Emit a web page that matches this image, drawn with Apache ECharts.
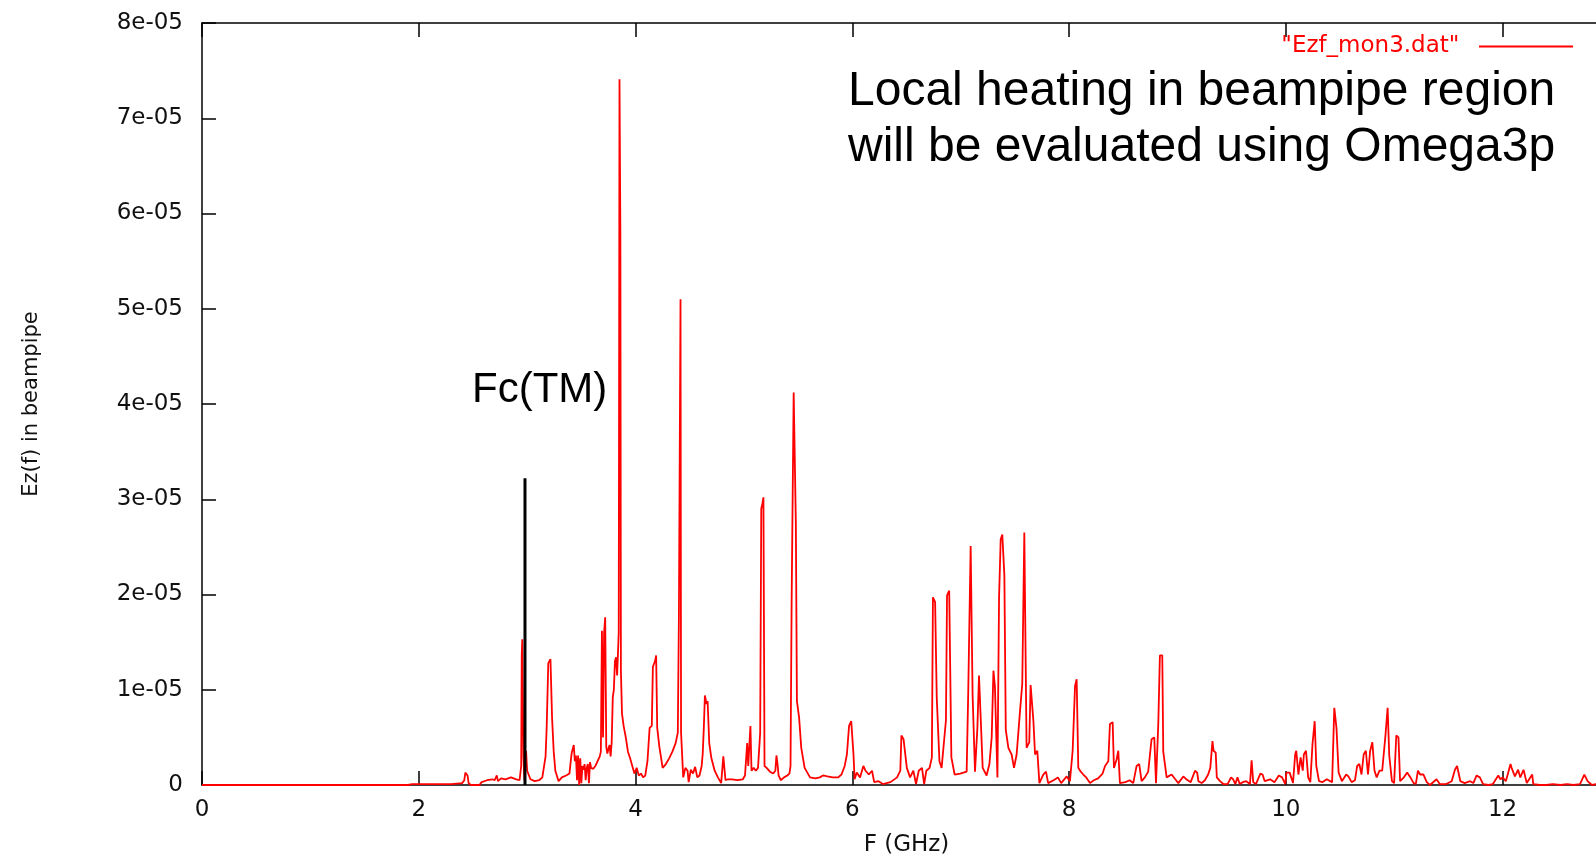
<!DOCTYPE html>
<html>
<head>
<meta charset="utf-8">
<title>Ez(f) in beampipe</title>
<script src="https://cdn.jsdelivr.net/npm/echarts@6/dist/echarts.min.js"></script>
<style>
  html, body { margin: 0; padding: 0; background: #fff; }
  #chart { width: 1596px; height: 859px; }
</style>
</head>
<body>
<div id="chart"></div>
<script>
// data; ez values are in units of 1e-05
const unit = 1e-5;
const seriesName = '"Ezf_mon3.dat"';

const freq = [
  0, 1.90, 1.94, 2.10, 2.30, 2.40, 2.42, 2.43, 2.45, 2.46, 2.48, 2.56, 2.58, 2.63, 2.68, 2.70, 2.72, 2.73, 2.76, 2.80,
  2.85, 2.90, 2.93, 2.945, 2.95, 2.955, 2.965, 2.975, 2.99, 3.00, 3.03, 3.07, 3.11, 3.14, 3.17, 3.18, 3.195, 3.205, 3.215, 3.23,
  3.245, 3.26, 3.29, 3.32, 3.36, 3.39, 3.41, 3.43, 3.44, 3.45, 3.46, 3.47, 3.48, 3.49, 3.50, 3.51, 3.52, 3.53, 3.54, 3.55,
  3.56, 3.57, 3.58, 3.59, 3.61, 3.63, 3.65, 3.67, 3.68, 3.69, 3.70, 3.71, 3.72, 3.73, 3.74, 3.75, 3.76, 3.77, 3.78, 3.79,
  3.80, 3.81, 3.82, 3.83, 3.845, 3.852, 3.86, 3.865, 3.875, 3.89, 3.91, 3.93, 3.95, 3.97, 3.99, 4.01, 4.03, 4.05, 4.07, 4.09,
  4.11, 4.13, 4.15, 4.16, 4.17, 4.18, 4.19, 4.20, 4.22, 4.25, 4.28, 4.31, 4.34, 4.37, 4.39, 4.40, 4.41, 4.415, 4.42, 4.44,
  4.46, 4.48, 4.49, 4.51, 4.53, 4.55, 4.57, 4.59, 4.61, 4.62, 4.63, 4.64, 4.655, 4.665, 4.68, 4.70, 4.73, 4.76, 4.79, 4.81,
  4.82, 4.83, 4.85, 4.89, 4.94, 4.99, 5.01, 5.03, 5.04, 5.06, 5.07, 5.09, 5.11, 5.13, 5.15, 5.16, 5.17, 5.18, 5.19, 5.21,
  5.24, 5.27, 5.29, 5.30, 5.31, 5.32, 5.34, 5.37, 5.40, 5.42, 5.43, 5.44, 5.459, 5.479, 5.489, 5.509, 5.529, 5.56, 5.61, 5.66,
  5.70, 5.73, 5.77, 5.82, 5.87, 5.90, 5.93, 5.95, 5.97, 5.99, 6.011, 6.021, 6.041, 6.071, 6.102, 6.122, 6.152, 6.182, 6.202, 6.242,
  6.282, 6.352, 6.413, 6.443, 6.453, 6.473, 6.503, 6.533, 6.563, 6.588, 6.613, 6.643, 6.663, 6.683, 6.713, 6.734, 6.744, 6.764, 6.779, 6.804,
  6.824, 6.844, 6.864, 6.874, 6.894, 6.914, 6.944, 6.995, 7.055, 7.07, 7.092, 7.11, 7.132, 7.154, 7.169, 7.187, 7.203, 7.239, 7.265, 7.286,
  7.302, 7.316, 7.339, 7.354, 7.369, 7.384, 7.403, 7.416, 7.44, 7.47, 7.492, 7.516, 7.547, 7.568, 7.587, 7.608, 7.633, 7.645, 7.671, 7.686,
  7.707, 7.726, 7.762, 7.787, 7.807, 7.857, 7.897, 7.927, 7.978, 8.008, 8.033, 8.055, 8.07, 8.085, 8.108, 8.131, 8.158, 8.193, 8.228, 8.268,
  8.309, 8.332, 8.362, 8.377, 8.402, 8.414, 8.439, 8.454, 8.469, 8.519, 8.559, 8.592, 8.623, 8.647, 8.669, 8.699, 8.73, 8.761, 8.786, 8.802,
  8.823, 8.838, 8.86, 8.869, 8.90, 8.946, 8.98, 9.008, 9.054, 9.082, 9.122, 9.162, 9.182, 9.193, 9.223, 9.253, 9.283, 9.303, 9.323, 9.333,
  9.353, 9.363, 9.393, 9.423, 9.463, 9.494, 9.514, 9.534, 9.554, 9.574, 9.604, 9.634, 9.669, 9.684, 9.699, 9.724, 9.765, 9.785, 9.805, 9.855,
  9.895, 9.935, 9.965, 9.995, 10.005, 10.035, 10.066, 10.086, 10.096, 10.116, 10.136, 10.156, 10.166, 10.186, 10.206, 10.226, 10.246, 10.266, 10.281, 10.306,
  10.337, 10.377, 10.427, 10.447, 10.467, 10.487, 10.517, 10.557, 10.577, 10.607, 10.638, 10.658, 10.678, 10.698, 10.718, 10.738, 10.758, 10.778, 10.798, 10.818,
  10.838, 10.864, 10.889, 10.919, 10.939, 10.954, 10.979, 10.999, 11.019, 11.039, 11.054, 11.089, 11.119, 11.149, 11.179, 11.199, 11.219, 11.239, 11.27, 11.30,
  11.33, 11.39, 11.42, 11.48, 11.53, 11.56, 11.58, 11.61, 11.65, 11.70, 11.73, 11.76, 11.79, 11.82, 11.87, 11.91, 11.96, 11.98, 12.00, 12.03,
  12.073, 12.083, 12.113, 12.143, 12.163, 12.193, 12.223, 12.273, 12.283, 12.343, 12.403, 12.463, 12.534, 12.594, 12.654, 12.714, 12.754, 12.784, 12.824, 12.864,
  12.91, 12.95, 13.0
];

const ez = [
  0, 0, 0.01, 0.01, 0.01, 0.02, 0.05, 0.13, 0.10, 0.02, 0, 0, 0.03, 0.05, 0.06, 0.05, 0.10, 0.04, 0.07, 0.06,
  0.08, 0.06, 0.05, 0.20, 1.36, 1.53, 0.30, 0.05, 0.36, 0.15, 0.06, 0.04, 0.05, 0.08, 0.30, 0.60, 1.28, 1.30, 1.32, 0.70,
  0.35, 0.15, 0.04, 0.08, 0.10, 0.12, 0.33, 0.42, 0.25, 0.31, 0.05, 0.31, 0, 0.28, 0.02, 0.20, 0.16, 0.22, 0.05, 0.18,
  0.22, 0.02, 0.24, 0.18, 0.17, 0.20, 0.25, 0.30, 0.35, 1.62, 0.50, 1.60, 1.76, 0.40, 0.33, 0.38, 0.42, 0.30, 0.45, 0.92,
  1.00, 1.30, 1.34, 1.15, 1.60, 7.41, 5.82, 1.20, 0.75, 0.62, 0.50, 0.35, 0.28, 0.20, 0.12, 0.18, 0.10, 0.12, 0.08, 0.10,
  0.25, 0.60, 0.62, 1.24, 1.27, 1.30, 1.36, 0.60, 0.40, 0.18, 0.22, 0.28, 0.35, 0.44, 0.55, 1.76, 1.78, 5.10, 0.55, 0.08,
  0.18, 0.15, 0.03, 0.16, 0.12, 0.19, 0.08, 0.10, 0.20, 0.33, 0.60, 0.94, 0.85, 0.88, 0.44, 0.28, 0.15, 0.08, 0.02, 0.30,
  0.29, 0.05, 0.06, 0.06, 0.05, 0.06, 0.10, 0.44, 0.20, 0.62, 0.15, 0.18, 0.15, 0.18, 0.55, 2.90, 2.95, 3.02, 0.20, 0.18,
  0.14, 0.12, 0.15, 0.31, 0.22, 0.10, 0.05, 0.08, 0.10, 0.12, 0.20, 1.90, 4.12, 2.76, 0.88, 0.71, 0.39, 0.18, 0.08, 0.07,
  0.08, 0.10, 0.09, 0.08, 0.08, 0.11, 0.20, 0.32, 0.62, 0.67, 0.32, 0.06, 0.13, 0.08, 0.20, 0.15, 0.11, 0.15, 0.03, 0.04,
  0.01, 0.03, 0.08, 0.15, 0.52, 0.48, 0.18, 0.08, 0.15, 0.01, 0.15, 0.18, 0.01, 0.15, 0.18, 0.29, 1.97, 1.92, 0.92, 0.25,
  0.18, 0.43, 0.68, 1.99, 2.04, 0.29, 0.11, 0.12, 0.14, 1.00, 2.51, 0.94, 0.14, 0.60, 1.15, 1.16, 0.18, 0.10, 0.22, 0.50,
  1.20, 1.03, 0.08, 1.97, 2.58, 2.63, 2.20, 0.58, 0.39, 0.32, 0.18, 0.32, 0.77, 1.06, 2.65, 0.39, 0.45, 1.05, 0.67, 0.32,
  0.36, 0.02, 0.11, 0.14, 0.02, 0.05, 0.08, 0.02, 0.09, 0.04, 0.36, 1.04, 1.11, 0.18, 0.14, 0.11, 0.08, 0.02, 0.05, 0.07,
  0.12, 0.20, 0.25, 0.64, 0.66, 0.18, 0.27, 0.36, 0.02, 0.03, 0.05, 0.02, 0.20, 0.22, 0.04, 0.08, 0.14, 0.48, 0.50, 0.02,
  0.64, 1.36, 1.36, 0.35, 0.08, 0.11, 0.06, 0.02, 0.09, 0.06, 0.03, 0.15, 0.13, 0.04, 0.02, 0.05, 0.11, 0.18, 0.46, 0.36,
  0.34, 0.08, 0.04, 0.01, 0.01, 0.08, 0.06, 0.01, 0.08, 0.01, 0.03, 0.04, 0.01, 0.26, 0.03, 0.01, 0.12, 0.11, 0.04, 0.06,
  0.03, 0.10, 0.08, 0.01, 0.13, 0.13, 0.02, 0.32, 0.36, 0.11, 0.29, 0.15, 0.32, 0.36, 0.08, 0.03, 0.43, 0.67, 0.20, 0.04,
  0.03, 0.06, 0.03, 0.81, 0.60, 0.13, 0.04, 0.11, 0.09, 0.03, 0.05, 0.20, 0.22, 0.11, 0.32, 0.36, 0.11, 0.36, 0.45, 0.15,
  0.08, 0.15, 0.15, 0.52, 0.81, 0.31, 0.04, 0.02, 0.52, 0.50, 0.04, 0.08, 0.13, 0.08, 0.02, 0.01, 0.15, 0.11, 0.11, 0.03,
  0, 0.06, 0.01, 0.01, 0.04, 0.16, 0.20, 0.04, 0.02, 0.04, 0.02, 0.10, 0.08, 0.01, 0, 0.01, 0.10, 0.06, 0.08, 0.04,
  0.22, 0.18, 0.09, 0.16, 0.08, 0.16, 0.02, 0.11, 0.01, 0, 0, 0.01, 0, 0.01, 0, 0.01, 0.11, 0.04, 0, 0.01,
  0.02, 0.01, 0.01
];

// black marker of the TM cutoff frequency: [GHz, height in 1e-05]
const fcLine = [2.98, 3.22];
const fcLabel = 'Fc(TM)';
const noteLines = ['Local heating in beampipe region', 'will be evaluated using Omega3p'];

const xMax = 13;
const yMax = 8 * unit;

const tickFont = { fontSize: 23, fontFamily: 'DejaVu Sans', color: '#111' };

let chart = echarts.init(document.getElementById('chart'), null, { renderer: 'canvas' });

// gnuplot style box: every side drawn, ticks pointing inwards
const border = { show: true, onZero: false, lineStyle: { color: '#000', width: 1.5 } };
const ticks = { show: true, inside: true, length: 14, lineStyle: { color: '#000', width: 1.5 } };

const option = {
  animation: false,
  backgroundColor: '#fff',
  // the right edge of the plot box sits just past the picture edge
  grid: { left: 202, top: 23, width: 1409, bottom: 74, outerBoundsMode: 'none', containLabel: false },
  legend: {
    right: 18,
    top: 30,
    align: 'right',
    icon: 'rect',
    itemWidth: 94,
    itemHeight: 2,
    data: [seriesName],
    formatter: (n) => n + '  ',
    textStyle: { color: '#ff0000', fontSize: 23, fontFamily: 'DejaVu Sans' }
  },
  xAxis: [
    {
      type: 'value',
      min: 0,
      max: xMax,
      interval: 2,
      axisLine: border,
      axisTick: ticks,
      splitLine: { show: false },
      axisLabel: Object.assign({ margin: 14, formatter: (v) => (v % 2 === 0 ? String(v) : '') }, tickFont),
      name: 'F (GHz)',
      nameLocation: 'middle',
      nameGap: 49,
      nameTextStyle: { fontSize: 23, fontFamily: 'DejaVu Sans', color: '#111' }
    },
    {
      type: 'value',
      position: 'top',
      min: 0,
      max: xMax,
      interval: 2,
      axisLine: border,
      axisTick: ticks,
      axisLabel: { show: false },
      splitLine: { show: false }
    }
  ],
  yAxis: [
    {
      type: 'value',
      min: 0,
      max: yMax,
      interval: unit,
      axisLine: border,
      axisTick: ticks,
      splitLine: { show: false },
      axisLabel: Object.assign({
        margin: 19,
        formatter: (v) => (v === 0 ? '0' : Math.round(v / unit) + 'e-05')
      }, tickFont),
      name: 'Ez(f) in beampipe',
      nameLocation: 'middle',
      nameGap: 160,
      nameTextStyle: { fontSize: 21, fontFamily: 'DejaVu Sans', color: '#111' }
    },
    {
      type: 'value',
      position: 'right',
      min: 0,
      max: yMax,
      interval: unit,
      axisLine: border,
      axisTick: ticks,
      axisLabel: { show: false },
      splitLine: { show: false }
    }
  ],
  graphic: [
    {
      type: 'text',
      left: 848,
      top: 64,
      style: { text: noteLines.join('\n'), font: '48px "Liberation Sans", Arial, sans-serif', fill: '#000', lineHeight: 56 }
    },
    {
      type: 'text',
      left: 472,
      top: 369,
      style: { text: fcLabel, font: '42px "Liberation Sans", Arial, sans-serif', fill: '#000' }
    }
  ],
  series: [
    {
      name: seriesName,
      type: 'line',
      showSymbol: false,
      symbol: 'none',
      sampling: null,
      lineStyle: { color: '#ff0000', width: 1.8 },
      itemStyle: { color: '#ff0000' },
      data: freq.map((f, i) => [f, ez[i] * unit])
    },
    {
      name: fcLabel,
      type: 'line',
      showSymbol: false,
      symbol: 'none',
      lineStyle: { color: '#000', width: 3 },
      itemStyle: { color: '#000' },
      z: 3,
      data: [[fcLine[0], 0], [fcLine[0], fcLine[1] * unit]]
    }
  ]
};

chart.setOption(option);
</script>
</body>
</html>
